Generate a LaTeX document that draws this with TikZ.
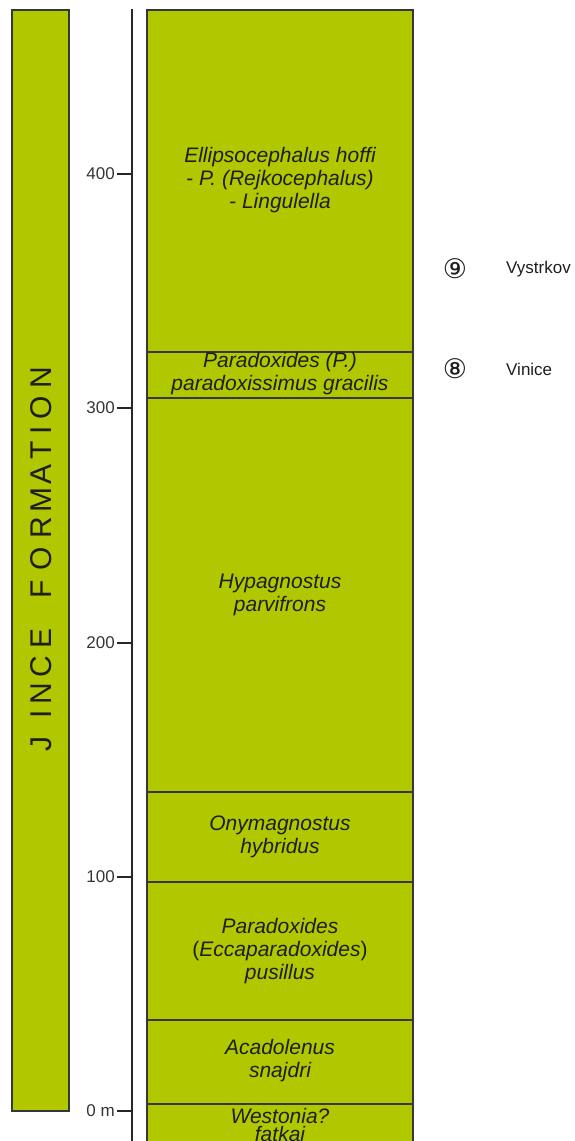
\documentclass[tikz,border=0pt]{standalone}
\usepackage{fontspec}
\setmainfont{Liberation Sans}
\newfontfamily\dejavu{DejaVu Sans}
\definecolor{lime}{RGB}{177,200,0}
\definecolor{edge}{RGB}{55,55,55}
\definecolor{ink}{RGB}{30,30,30}
\begin{document}
\begin{tikzpicture}[x=1pt,y=-1pt,
  layer/.style={fill=lime,draw=edge,line width=1.5},
  divider/.style={draw=edge,line width=1.2},
  fossil/.style={font=\fontsize{21}{23}\selectfont\itshape,align=center,text=ink,inner sep=0},
  axisline/.style={draw=black!85,line width=1.4},
  ticklabel/.style={anchor=east,font=\fontsize{17}{20}\selectfont,text=ink!90,inner sep=0},
  formation/.style={rotate=90,font=\fontsize{30}{30}\selectfont,text=ink,inner sep=0},
  sitenum/.style={font=\dejavu\fontsize{27}{27}\selectfont,text=ink,inner sep=0},
  sitename/.style={anchor=base west,font=\fontsize{17}{20}\selectfont,text=ink,inner sep=0}]
\useasboundingbox (0,0) rectangle (574,1141);
\clip (0,0) rectangle (574,1141);
% formation bar
\draw[layer] (12,10) rectangle (69,1111);
\foreach \ch/\yy [count=\i] in {J/744,I/714,N/694,C/667,E/638,F/589,O/559,R/528,M/500,A/474,T/450,I/430,O/408,N/378}
  \node[formation] (f\i) at (41,\yy) {\ch};
% axis
\draw[axisline] (132,9) -- (132,1150);
\foreach \yy/\lab [count=\i] in {174/400,408/300,643/200,877/100,1111/0 m}{
  \coordinate (t\i) at (132,\yy);
  \coordinate (s\i) at (117,\yy);
  \draw[axisline] (s\i) -- (t\i);
  \node[ticklabel] (l\i) at (115,\yy) {\lab};
}
% column
\draw[layer] (147,1150) -- (147,10) -- (413,10) -- (413,1150);
\foreach \yy in {352,398,792,882,1020,1104}
  \draw[divider] (147,\yy) -- (413,\yy);
% zone names
\node[fossil] (z1) at (280,180) {Ellipsocephalus hoffi\\- P. (Rejkocephalus)\\- Lingulella};
\node[fossil] (z2) at (280,374) {Paradoxides (P.)\\paradoxissimus gracilis};
\node[fossil] (z3) at (280,595) {Hypagnostus\\parvifrons};
\node[fossil] (z4) at (280,837) {Onymagnostus\\hybridus};
\node[fossil] (z5) at (280,951) {Paradoxides\\\upshape(\itshape Eccaparadoxides\upshape)\\pusillus};
\node[fossil] (z6) at (280,1061) {Acadolenus\\snajdri};
\node[fossil,font=\fontsize{21}{17.5}\selectfont\itshape] (z7) at (280,1125) {Westonia?\\fatkai};
% sites
\node[sitenum] (c9) at (455,269) {⑨};
\node[sitename] (n9) at (506,273) {Vystrkov};
\node[sitenum] (c8) at (455,368.5) {⑧};
\node[sitename] (n8) at (506,375) {Vinice};
\end{tikzpicture}
\end{document}
